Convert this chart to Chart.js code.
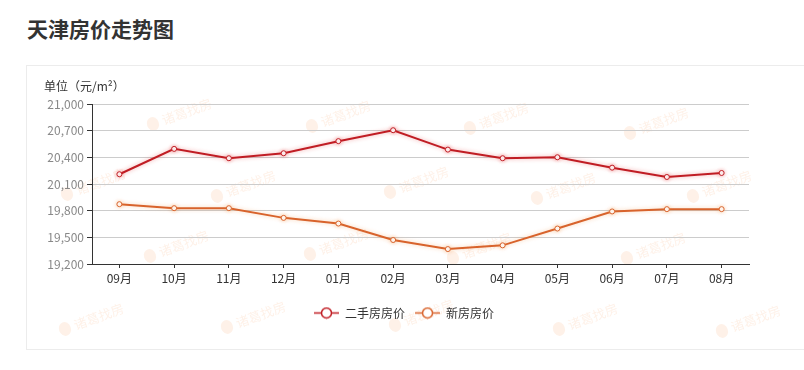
<!DOCTYPE html>
<html>
<head>
<meta charset="utf-8">
<script src="https://cdn.jsdelivr.net/npm/chart.js@4"></script>
<style>
  body { margin: 0; background: #fff; width: 804px; height: 370px; overflow: hidden; position: relative; font-family: "Noto Sans CJK SC", sans-serif; }
  h1 { position: absolute; left: 27px; top: 13px; margin: 0; font-size: 21px; font-weight: bold; color: #333; line-height: 30px; }
  .panel { position: absolute; left: 26px; top: 65px; width: 800px; height: 283px; border: 1px solid #ececec; border-right: none; }
  .unit { position: absolute; left: 17px; top: 12px; font-size: 12px; color: #333; line-height: 16px; }
  canvas { position: absolute; left: 0; top: 0; }
</style>
</head>
<body>
<h1>天津房价走势图</h1>
<div class="panel">
  <canvas id="priceChart" width="777" height="283"></canvas>
  <div class="unit">单位（元/m²）</div>
</div>
<script>
const months = ['09月', '10月', '11月', '12月', '01月', '02月', '03月', '04月', '05月', '06月', '07月', '08月'];
const resalePrice = [20210, 20495, 20390, 20446, 20582, 20705, 20487, 20390, 20401, 20284, 20179, 20224];
const newPrice = [19873, 19828, 19828, 19719, 19655, 19470, 19368, 19410, 19599, 19791, 19817, 19817];
const yTicks = { min: 19200, max: 21000, step: 300 };

const red = '#c01d24';
const orange = '#d8632c';

// line + hollow circle, like the legend marks in the original
function legendIcon(color) {
  const c = document.createElement('canvas');
  c.width = 25; c.height = 13;
  const g = c.getContext('2d');
  g.strokeStyle = color;
  g.lineWidth = 1.5;
  g.beginPath(); g.moveTo(0, 6.5); g.lineTo(25, 6.5); g.stroke();
  g.fillStyle = '#fff';
  g.beginPath(); g.arc(12.5, 6.5, 5, 0, Math.PI * 2); g.fill(); g.stroke();
  return c;
}

const glow = {
  id: 'glow',
  beforeDatasetDraw(chart, args) {
    const ctx = chart.ctx;
    ctx.save();
    ctx.shadowColor = args.index === 0 ? 'rgba(225,40,40,0.4)' : 'rgba(240,140,60,0.4)';
    ctx.shadowBlur = 4;
  },
  afterDatasetDraw(chart) { chart.ctx.restore(); }
};

// legend sits centred on the plot, not on the whole canvas
const legendShift = {
  id: 'legendShift',
  afterLayout(chart) {
    chart.legend.left += 16;
    chart.legend.right += 16;
  }
};

const watermark = {
  id: 'watermark',
  beforeDraw(chart) {
    const ctx = chart.ctx;
    const spots = [[156,47],[315,49],[473,51],[633,56],[70,117],[220,119],[393,115],[540,121],[696,119],[153,179],[313,177],[456,181],[630,181],[68,252],[230,250],[398,248],[562,252],[725,254]];
    ctx.save();
    ctx.font = '13px "Noto Sans CJK SC"';
    ctx.fillStyle = 'rgba(246,170,110,0.16)';
    spots.forEach(([x, y]) => {
      ctx.save();
      ctx.translate(x, y);
      ctx.rotate(-0.35);
      ctx.beginPath(); ctx.ellipse(-32, 0, 6, 7, 0, 0, Math.PI * 2); ctx.fill();
      ctx.textAlign = 'left'; ctx.textBaseline = 'middle';
      ctx.fillText('诸葛找房', -22, 0);
      ctx.restore();
    });
    ctx.restore();
  }
};

new Chart(document.getElementById('priceChart'), {
  type: 'line',
  data: {
    labels: months,
    datasets: [{
      label: '二手房房价',
      data: resalePrice,
      borderColor: red,
      backgroundColor: '#fff',
      borderWidth: 2,
      pointRadius: 2.5,
      pointBorderWidth: 1,
      pointBackgroundColor: '#fff',
      tension: 0
    }, {
      label: '新房房价',
      data: newPrice,
      borderColor: orange,
      backgroundColor: '#fff',
      borderWidth: 2,
      pointRadius: 2.5,
      pointBorderWidth: 1,
      pointBackgroundColor: '#fff',
      tension: 0
    }]
  },
  options: {
    responsive: false,
    animation: false,
    layout: { padding: { left: 0, right: 55, top: 38, bottom: 20 } },
    plugins: {
      tooltip: { enabled: false },
      legend: {
        position: 'bottom',
        labels: {
          usePointStyle: true,
          pointStyleWidth: 25,
          padding: 10,
          color: '#333',
          font: { size: 12, family: '"Noto Sans CJK SC"' },
          generateLabels(chart) {
            return chart.data.datasets.map((ds, i) => ({
              text: ds.label,
              pointStyle: legendIcon(ds.borderColor),
              fontColor: '#333',
              strokeStyle: ds.borderColor,
              fillStyle: '#fff',
              lineWidth: 0,
              hidden: false,
              datasetIndex: i
            }));
          }
        }
      }
    },
    scales: {
      x: {
        offset: true,
        afterFit(scale) { scale.height = 33; },
        grid: { drawOnChartArea: false, drawTicks: true, tickLength: 4, tickColor: '#333', offset: false },
        border: { color: '#333' },
        ticks: { color: '#333', padding: 3, maxRotation: 0, font: { size: 12, family: '"Noto Sans CJK SC"' } }
      },
      y: {
        min: yTicks.min,
        max: yTicks.max,
        afterFit(scale) { scale.width = 65; },
        grid: { color: '#cccccc', tickColor: '#333', tickLength: 5 },
        border: { color: '#333' },
        ticks: { stepSize: yTicks.step, color: '#888', padding: 3, font: { size: 12, family: '"Noto Sans CJK SC"' } }
      }
    }
  },
  plugins: [watermark, glow, legendShift]
});
</script>
</body>
</html>
